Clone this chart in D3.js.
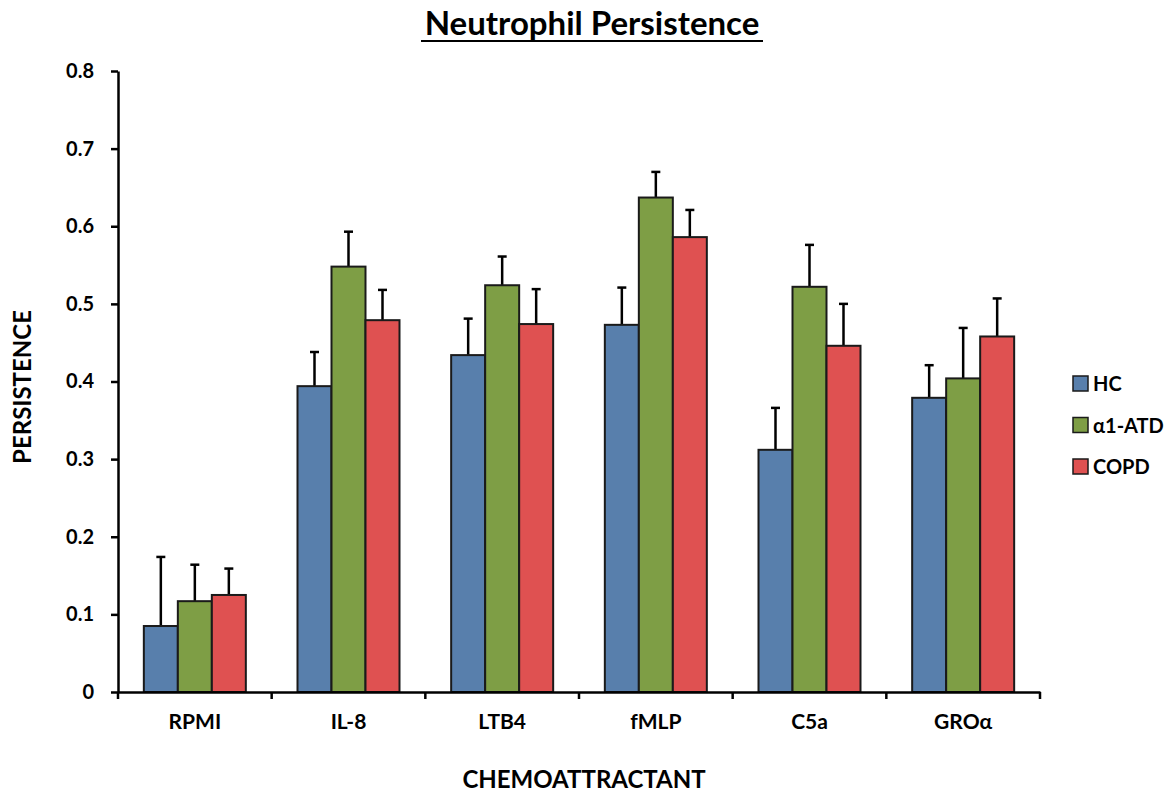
<!DOCTYPE html>
<html>
<head>
<meta charset="utf-8">
<script src="https://cdn.jsdelivr.net/npm/d3@7"></script>
<style>
  body { margin: 0; background: #fff; }
  text { font-family: Lato, "Open Sans", sans-serif; font-weight: bold; fill: #000; }
</style>
</head>
<body>
<div id="chart"></div>
<script>
// data
const categories = ['RPMI', 'IL-8', 'LTB4', 'fMLP', 'C5a', 'GROα'];
const seriesNames = ['HC', 'α1-ATD', 'COPD'];
const hcValues   = [0.085, 0.394, 0.434, 0.473, 0.312, 0.379];
const atdValues  = [0.117, 0.548, 0.524, 0.637, 0.522, 0.404];
const copdValues = [0.125, 0.479, 0.474, 0.586, 0.446, 0.458];
const hcErr   = [0.089, 0.044, 0.047, 0.048, 0.054, 0.042];
const atdErr  = [0.047, 0.045, 0.037, 0.033, 0.054, 0.065];
const copdErr = [0.034, 0.039, 0.045, 0.035, 0.054, 0.049];
const yTicks = [0, 0.1, 0.2, 0.3, 0.4, 0.5, 0.6, 0.7, 0.8];
const colors = ['#587fac', '#7e9e45', '#df5151'];

const seriesValues = [hcValues, atdValues, copdValues];
const seriesErr = [hcErr, atdErr, copdErr];

const width = 1170, height = 795;
const plotLeft = 118, plotRight = 1040, plotTop = 71, plotBottom = 692;

const svg = d3.select('#chart').append('svg')
  .attr('width', width)
  .attr('height', height);

const x = d3.scaleBand().domain(categories).range([plotLeft, plotRight]);
const xs = d3.scaleBand().domain(seriesNames).range([0, 102]);
const y = d3.scaleLinear().domain([0, 0.8]).range([plotBottom, plotTop]);

// flat table for bars
const rows = [];
categories.forEach((c, i) => {
  seriesNames.forEach((s, j) => {
    rows.push({cat: c, series: s, idx: j, value: seriesValues[j][i], err: seriesErr[j][i]});
  });
});

const offset = (x.bandwidth() - 102) / 2;
const cx = d => x(d.cat) + offset + xs(d.series) + xs.bandwidth() / 2;

// error bars (drawn first, bar covers lower part)
const eb = svg.append('g');
eb.selectAll('line.stem')
  .data(rows)
  .enter()
  .append('line')
  .attr('x1', cx)
  .attr('x2', cx)
  .attr('y1', d => y(d.value))
  .attr('y2', d => y(d.value + d.err))
  .attr('stroke', '#000')
  .attr('stroke-width', 2.5);
eb.selectAll('line.cap')
  .data(rows)
  .enter()
  .append('line')
  .attr('x1', d => cx(d) - 4.5)
  .attr('x2', d => cx(d) + 4.5)
  .attr('y1', d => y(d.value + d.err))
  .attr('y2', d => y(d.value + d.err))
  .attr('stroke', '#000')
  .attr('stroke-width', 2.5);

// bars
svg.append('g').selectAll('rect')
  .data(rows)
  .enter()
  .append('rect')
  .attr('x', d => x(d.cat) + offset + xs(d.series))
  .attr('y', d => y(d.value))
  .attr('width', xs.bandwidth())
  .attr('height', d => y(0) - y(d.value))
  .attr('fill', d => colors[d.idx])
  .attr('stroke', '#1a1a1a')
  .attr('stroke-width', 2);

// y axis
const yAxis = svg.append('g')
  .attr('transform', `translate(${plotLeft},0)`)
  .call(d3.axisLeft(y).tickValues(yTicks).tickSize(7).tickSizeOuter(0).tickPadding(17)
    .tickFormat(d => d === 0 ? '0' : d3.format('.1f')(d)));
yAxis.select('.domain').attr('stroke', '#000').attr('stroke-width', 2.5);
yAxis.selectAll('.tick line').attr('stroke', '#000').attr('stroke-width', 2.5);
yAxis.selectAll('.tick text').style('font-size', '20px').attr('fill', '#000');

// x axis
const xAxis = svg.append('g')
  .attr('transform', `translate(0,${plotBottom})`)
  .call(d3.axisBottom(x).tickSize(0).tickPadding(22));
xAxis.select('.domain').attr('stroke', '#000').attr('stroke-width', 2.5);
xAxis.selectAll('.tick text').style('font-size', '21px').attr('fill', '#000');
// tick marks at band edges
const edges = categories.map(c => x(c)).concat([plotRight]);
xAxis.selectAll('line.edge')
  .data(edges)
  .enter()
  .append('line')
  .attr('x1', d => d).attr('x2', d => d)
  .attr('y1', 0).attr('y2', 7)
  .attr('stroke', '#000')
  .attr('stroke-width', 2.5);

// title
svg.append('text')
  .attr('x', 592)
  .attr('y', 35)
  .attr('text-anchor', 'middle')
  .style('font-size', '33px')
  .text('Neutrophil Persistence');
svg.append('line')
  .attr('x1', 421).attr('x2', 763)
  .attr('y1', 41).attr('y2', 41)
  .attr('stroke', '#000')
  .attr('stroke-width', 2);

// axis titles
svg.append('text')
  .attr('transform', 'translate(31,387) rotate(-90)')
  .attr('text-anchor', 'middle')
  .style('font-size', '24px')
  .text('PERSISTENCE');
svg.append('text')
  .attr('x', 584)
  .attr('y', 788)
  .attr('text-anchor', 'middle')
  .style('font-size', '24px')
  .text('CHEMOATTRACTANT');

// legend
const legend = svg.append('g')
  .attr('transform', 'translate(1073,376)');
const li = legend.selectAll('g')
  .data(seriesNames)
  .enter()
  .append('g')
  .attr('transform', (d, i) => `translate(0,${i * 41.5})`);
li.append('rect')
  .attr('width', 15).attr('height', 15)
  .attr('fill', (d, i) => colors[i])
  .attr('stroke', '#1a1a1a')
  .attr('stroke-width', 1.5);
li.append('text')
  .attr('x', 20)
  .attr('y', 15)
  .style('font-size', '20px')
  .text(d => d);
</script>
</body>
</html>
